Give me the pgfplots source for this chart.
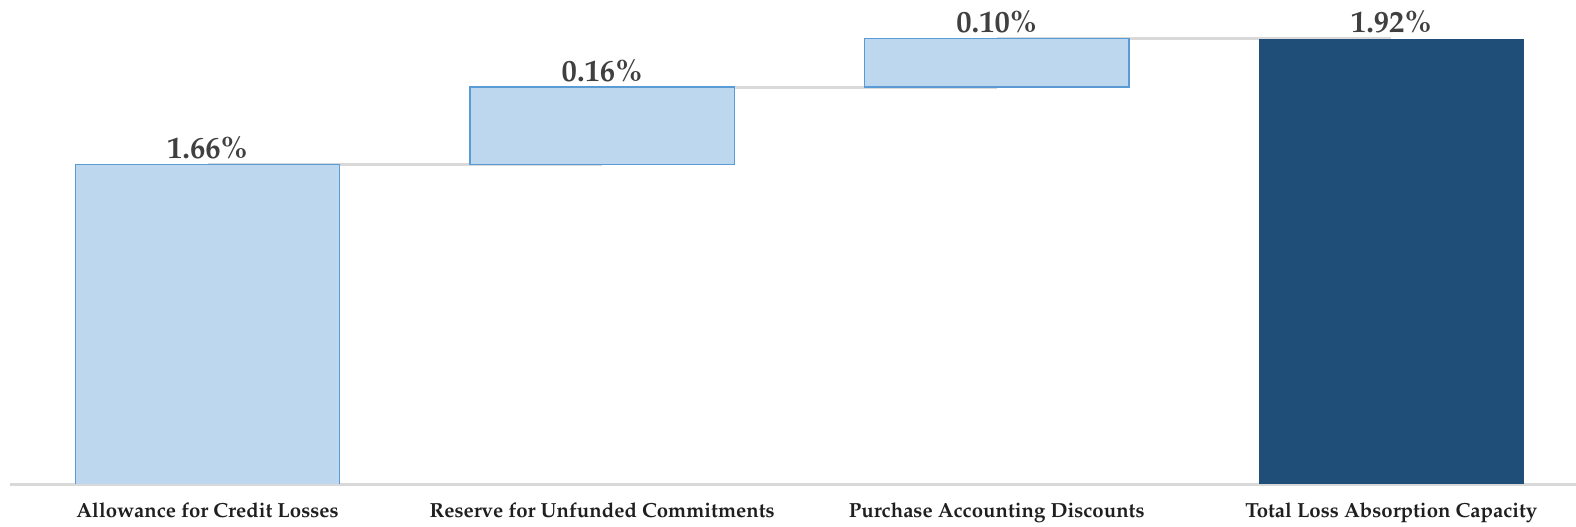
\documentclass[border=0pt]{standalone}
\usepackage[T1]{fontenc}
\usepackage{mathpazo}
\usepackage{pgfplots}
\pgfplotsset{compat=1.18}
\definecolor{lightbar}{HTML}{BDD7EE}
\definecolor{lightedge}{HTML}{5B9BD5}
\definecolor{darkbar}{HTML}{1F4E79}
\definecolor{gridgray}{HTML}{D9D9D9}
\definecolor{txt}{HTML}{404040}
\begin{document}
\begin{tikzpicture}
\pgfplotsset{common/.style={scale only axis, width=782.9pt, height=242pt,
  xmin=-0.5, xmax=3.468, ymin=1.0, ymax=2.0}}
% background axis: base line, category labels, connectors
\begin{axis}[common, name=ax,
  axis x line*=bottom, axis y line=none,
  xtick={0,1,2,3},
  xticklabels={Allowance for Credit Losses, Reserve for Unfunded Commitments, Purchase Accounting Discounts, Total Loss Absorption Capacity},
  major tick length=0pt,
  x axis line style={gridgray, line width=1.5pt, -},
  xticklabel style={font=\bfseries\fontsize{10.2}{12}\selectfont, text=black!88, anchor=base, yshift=-16.5pt},
  ytick=\empty]
\addplot[gridgray, line width=1.5pt, no markers] coordinates {(0,1.66) (1,1.66)};
\addplot[gridgray, line width=1.5pt, no markers] coordinates {(1,1.82) (2,1.82)};
\addplot[gridgray, line width=1.5pt, no markers] coordinates {(2,1.92) (3,1.92)};
\end{axis}
% bars
\begin{axis}[common, hide axis, ybar stacked, bar width=0.67]
\addplot[draw=none, fill=none] coordinates {(0,0) (1,1.66) (2,1.82) (3,0)};
\addplot[fill=lightbar, draw=lightedge, line width=0.75pt]
  coordinates {(0,1.66) (1,0.16) (2,0.10) (3,0)};
\addplot[fill=darkbar, draw=none]
  coordinates {(0,0) (1,0) (2,0) (3,1.92)};
\end{axis}
% value labels
\begin{axis}[common, hide axis, clip=false]
\addplot[only marks, mark=none, nodes near coords, point meta=explicit symbolic,
  every node near coord/.append style={font=\bfseries\fontsize{15.3}{18}\selectfont, text=txt, anchor=base, yshift=3pt}]
  coordinates {(0,1.66) [1.66\%] (1,1.82) [0.16\%] (2,1.92) [0.10\%] (3,1.92) [1.92\%]};
\end{axis}
\pgfresetboundingbox
\path ([xshift=-5.1pt,yshift=-21pt]ax.south west) rectangle (ax.north east);
\end{tikzpicture}
\end{document}
